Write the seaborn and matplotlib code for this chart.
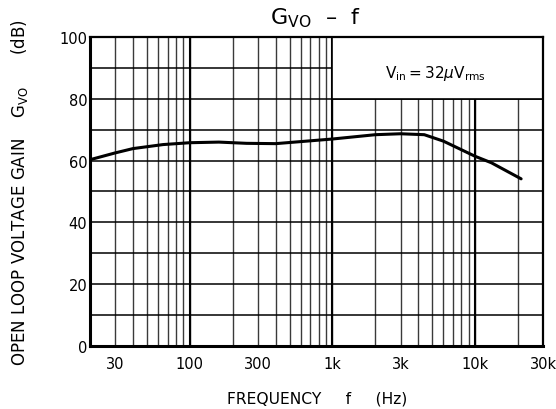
import numpy as np
import pandas as pd
import seaborn as sns
import matplotlib.pyplot as plt
from matplotlib.ticker import FixedLocator, LogLocator, MultipleLocator, NullFormatter
from matplotlib.patches import Rectangle

# curve
freq = [20, 30, 40, 65, 100, 160, 250, 400, 1000, 2000, 3000, 4400, 6000, 10000, 13000, 21000]
gain = [60.3, 62.5, 63.9, 65.2, 65.8, 66.0, 65.6, 65.5, 67.0, 68.4, 68.7, 68.4, 66.3, 61.4, 59.3, 54.1]

xticks = [30, 100, 300, 1000, 3000, 10000, 30000]
xlabels = ["30", "100", "300", "1k", "3k", "10k", "30k"]
yticks = [0, 20, 40, 60, 80, 100]

sns.set_style("white")
plt.rcParams["font.family"] = ["DejaVu Sans"]
plt.rcParams["mathtext.fontset"] = "dejavusans"
plt.rcParams["text.color"] = "black"
plt.rcParams["axes.labelcolor"] = "black"

df = pd.DataFrame({"f": freq, "g": gain})

fig = plt.figure(figsize=(5.56, 4.10), dpi=100)
ax = fig.add_axes([0.162, 0.154, 0.815, 0.753])

sns.lineplot(data=df, x="f", y="g", ax=ax, color="black", linewidth=2.2, zorder=3)

ax.set_xscale("log")
ax.set_xlim(20, 30000)
ax.set_ylim(0, 100)

ax.xaxis.set_major_locator(FixedLocator(xticks))
ax.set_xticklabels(xlabels)
ax.xaxis.set_minor_locator(LogLocator(base=10, subs=range(1, 10)))
ax.xaxis.set_minor_formatter(NullFormatter())
ax.set_yticks(yticks)
ax.yaxis.set_minor_locator(MultipleLocator(10))

ax.set_axisbelow(True)
ax.grid(which="both", axis="x", color="#3a3a3a", linewidth=1.0)
ax.grid(which="both", axis="y", color="black", linewidth=1.1)
for d in [100, 1000, 10000]:
    ax.axvline(d, color="black", linewidth=1.5, zorder=0.6)

# white box behind the condition note
ax.add_patch(Rectangle((1000, 80), 29000, 20, facecolor="white",
                       edgecolor="black", linewidth=1.2, zorder=1))
ax.text(5300, 88.5, r"$\mathregular{V_{in}=32}\mathit{\mu}\mathregular{V_{rms}}$",
        ha="center", va="center", fontsize=11, zorder=4)

ax.tick_params(which="both", length=0, labelsize=10.5, colors="black")
ax.tick_params(axis="x", pad=7)
ax.tick_params(axis="y", pad=2)

for side in ["left", "bottom"]:
    ax.spines[side].set_linewidth(2.2)
for side in ["top", "right"]:
    ax.spines[side].set_linewidth(1.6)
for s in ax.spines.values():
    s.set_color("black")
    s.set_zorder(5)

ax.set_xlabel("FREQUENCY     f     (Hz)", fontsize=11.2, labelpad=14)
ax.set_ylabel(r"OPEN LOOP VOLTAGE GAIN    $\mathregular{G_{VO}}$      (dB)",
              fontsize=12, labelpad=21)
fig.text(0.568, 0.955, r"$\mathregular{G_{VO}}$  –  f", ha="center", va="center",
         fontsize=16)

fig.savefig("out.png", dpi=100)
